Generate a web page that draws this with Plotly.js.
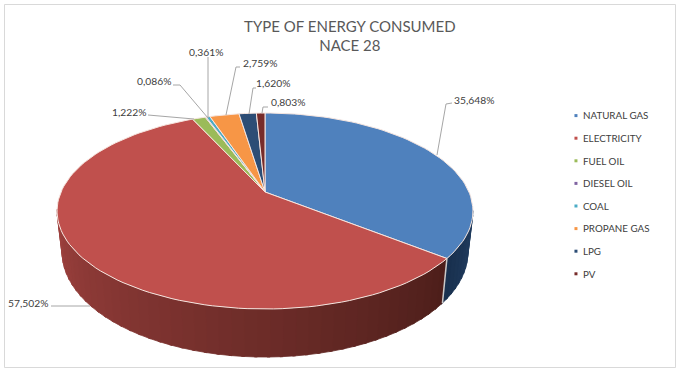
<!DOCTYPE html>
<html><head><meta charset="utf-8">
<script src="https://cdn.plot.ly/plotly-3.0.1.min.js"></script>
<style>html,body{margin:0;padding:0;background:#fff}#c{width:678px;height:371px}</style>
</head><body><div id="c"></div>
<script>
const categories = ["NATURAL GAS","ELECTRICITY","FUEL OIL","DIESEL OIL","COAL","PROPANE GAS","LPG","PV"];
const shares = [35.648,57.502,1.222,0.086,0.361,2.759,1.620,0.803];
const colors = ["#4f81bd","#c0504d","#9bbb59","#8064a2","#4bacc6","#f79646","#2c4d75","#772c2a"];
const labelAnchors = [[452,99.5],[6,302.5],[110,111.5],[135,80.5],[187,51.5],[241,62.5],[254,82.5],[269,101.5]];
const leaders = [
 [[437,155],[446,104],[452,103]],
 [[90,306],[51,306]],
 [[194,119],[148,115]],
 [[208,118],[180,85],[173,85]],
 [[208,118],[208,57]],
 [[226,115],[236,67],[240,67]],
 [[249,114],[253,88],[256,88]],
 [[262,113],[263,107],[268,107]]
];

// Perspective projection of the pie's top and bottom rings
const CX=265, TOPY=192, R=204, A=94.3, K=0.194;
const BOTY=232, R2=199, A2=100.8;
const topRing=t=>{const X=Math.sin(t),Y=Math.cos(t),d=1+K*Y;return [CX+R*X/d,TOPY-A*Y/d];};
const botRing=t=>{const X=Math.sin(t),Y=Math.cos(t),d=1+K*Y;return [CX+R2*X/d,BOTY-A2*Y/d];};
const rad=d=>d*Math.PI/180;

const total=shares.reduce((a,b)=>a+b,0);
let acc=0;
const angles=shares.map(v=>{const s=acc;acc+=v;return [s/total*2*Math.PI,acc/total*2*Math.PI];});

const traces=[];
const common={type:'scatter',mode:'lines',xaxis:'x',yaxis:'y',showlegend:false,hoverinfo:'skip'};
const mix=(a,b,f)=>a.map((v,i)=>Math.round(v+(b[i]-v)*f));
// side wall: the visible front arc, shaded strip by strip
const WALL_START=rad(101), WALL_END=rad(259);
const wallRamp={
  0:[[34,62,98],[24,48,78]],
  1:[[76,30,26],[158,65,62]]
};
[0,1].forEach(i=>{
  const a=Math.max(angles[i][0],WALL_START), b=Math.min(angles[i][1],WALL_END);
  const n=Math.ceil((b-a)/rad(3));
  for(let s=0;s<n;s++){
    const t0=a+(b-a)*s/n, t1=a+(b-a)*(s+1)/n+0.012;
    const poly=[topRing(t0),topRing(t1),botRing(t1),botRing(t0),topRing(t0)];
    const c=mix(wallRamp[i][0],wallRamp[i][1],(s+0.5)/n);
    const col=`rgb(${c})`;
    traces.push({...common,x:poly.map(p=>p[0]),y:poly.map(p=>p[1]),fill:'toself',fillcolor:col,line:{width:0.8,color:col}});
  }
});
// seam between walls
{const a=angles[0][1];traces.push({...common,x:[topRing(a)[0],botRing(a)[0]],y:[topRing(a)[1],botRing(a)[1]],line:{color:'#c9c9c9',width:1.5}});}

// top face
categories.forEach((name,i)=>{
  const [a,b]=angles[i];
  const n=Math.max(2,Math.ceil((b-a)/rad(2)));
  const pts=[[CX,TOPY]];
  for(let s=0;s<=n;s++)pts.push(topRing(a+(b-a)*s/n));
  pts.push([CX,TOPY]);
  traces.push({...common,name,x:pts.map(p=>p[0]),y:pts.map(p=>p[1]),fill:'toself',fillcolor:colors[i],
    line:{color:'#f6e6e0',width:1},hoverinfo:'text',text:name+': '+shares[i].toFixed(3).replace('.',',')+'%'});
});
// leader lines
leaders.forEach(l=>traces.push({...common,x:l.map(p=>p[0]),y:l.map(p=>p[1]),line:{color:'#a6a6a6',width:1}}));
// native legend entries
categories.forEach((name,i)=>traces.push({type:'scatter',mode:'markers',name,x:[null],y:[null],legendgroup:name,
  marker:{symbol:'square',size:3,color:colors[i]},hoverinfo:'skip'}));

const font="Lato, Carlito, 'Open Sans', sans-serif";
const annotations=shares.map((v,i)=>({xref:'x',yref:'y',x:labelAnchors[i][0],y:labelAnchors[i][1],xanchor:'left',yanchor:'middle',
  text:v.toFixed(3).replace('.',',')+'%',showarrow:false,font:{family:font,size:10.3,color:'#404040'}}));

const layout={
  width:678,height:371,margin:{l:0,r:0,t:0,b:0},paper_bgcolor:'#fff',plot_bgcolor:'#fff',
  title:{text:'TYPE OF ENERGY CONSUMED<br>NACE 28',x:0.516,xanchor:'center',y:0.914,yanchor:'top',font:{family:font,size:15,color:'#595959'}},
  xaxis:{range:[0,678],visible:false,fixedrange:true},
  yaxis:{range:[371,0],visible:false,fixedrange:true},
  showlegend:true,
  legend:{x:0.82,y:0.7275,xanchor:'left',yanchor:'top',traceorder:'grouped',tracegroupgap:3.6,
    font:{family:font,size:9.8,color:'#404040'},bgcolor:'rgba(0,0,0,0)'},
  annotations,
  shapes:[{type:'rect',xref:'x',yref:'y',x0:4.5,x1:675.5,y0:4.5,y1:367.5,line:{color:'#d9d9d9',width:1},layer:'below'}]
};
Plotly.newPlot('c',traces,layout,{displayModeBar:false}).then(gd=>{
  gd.querySelectorAll('.legend text.legendtext').forEach(t=>t.setAttribute('x','27'));
});
</script></body></html>
